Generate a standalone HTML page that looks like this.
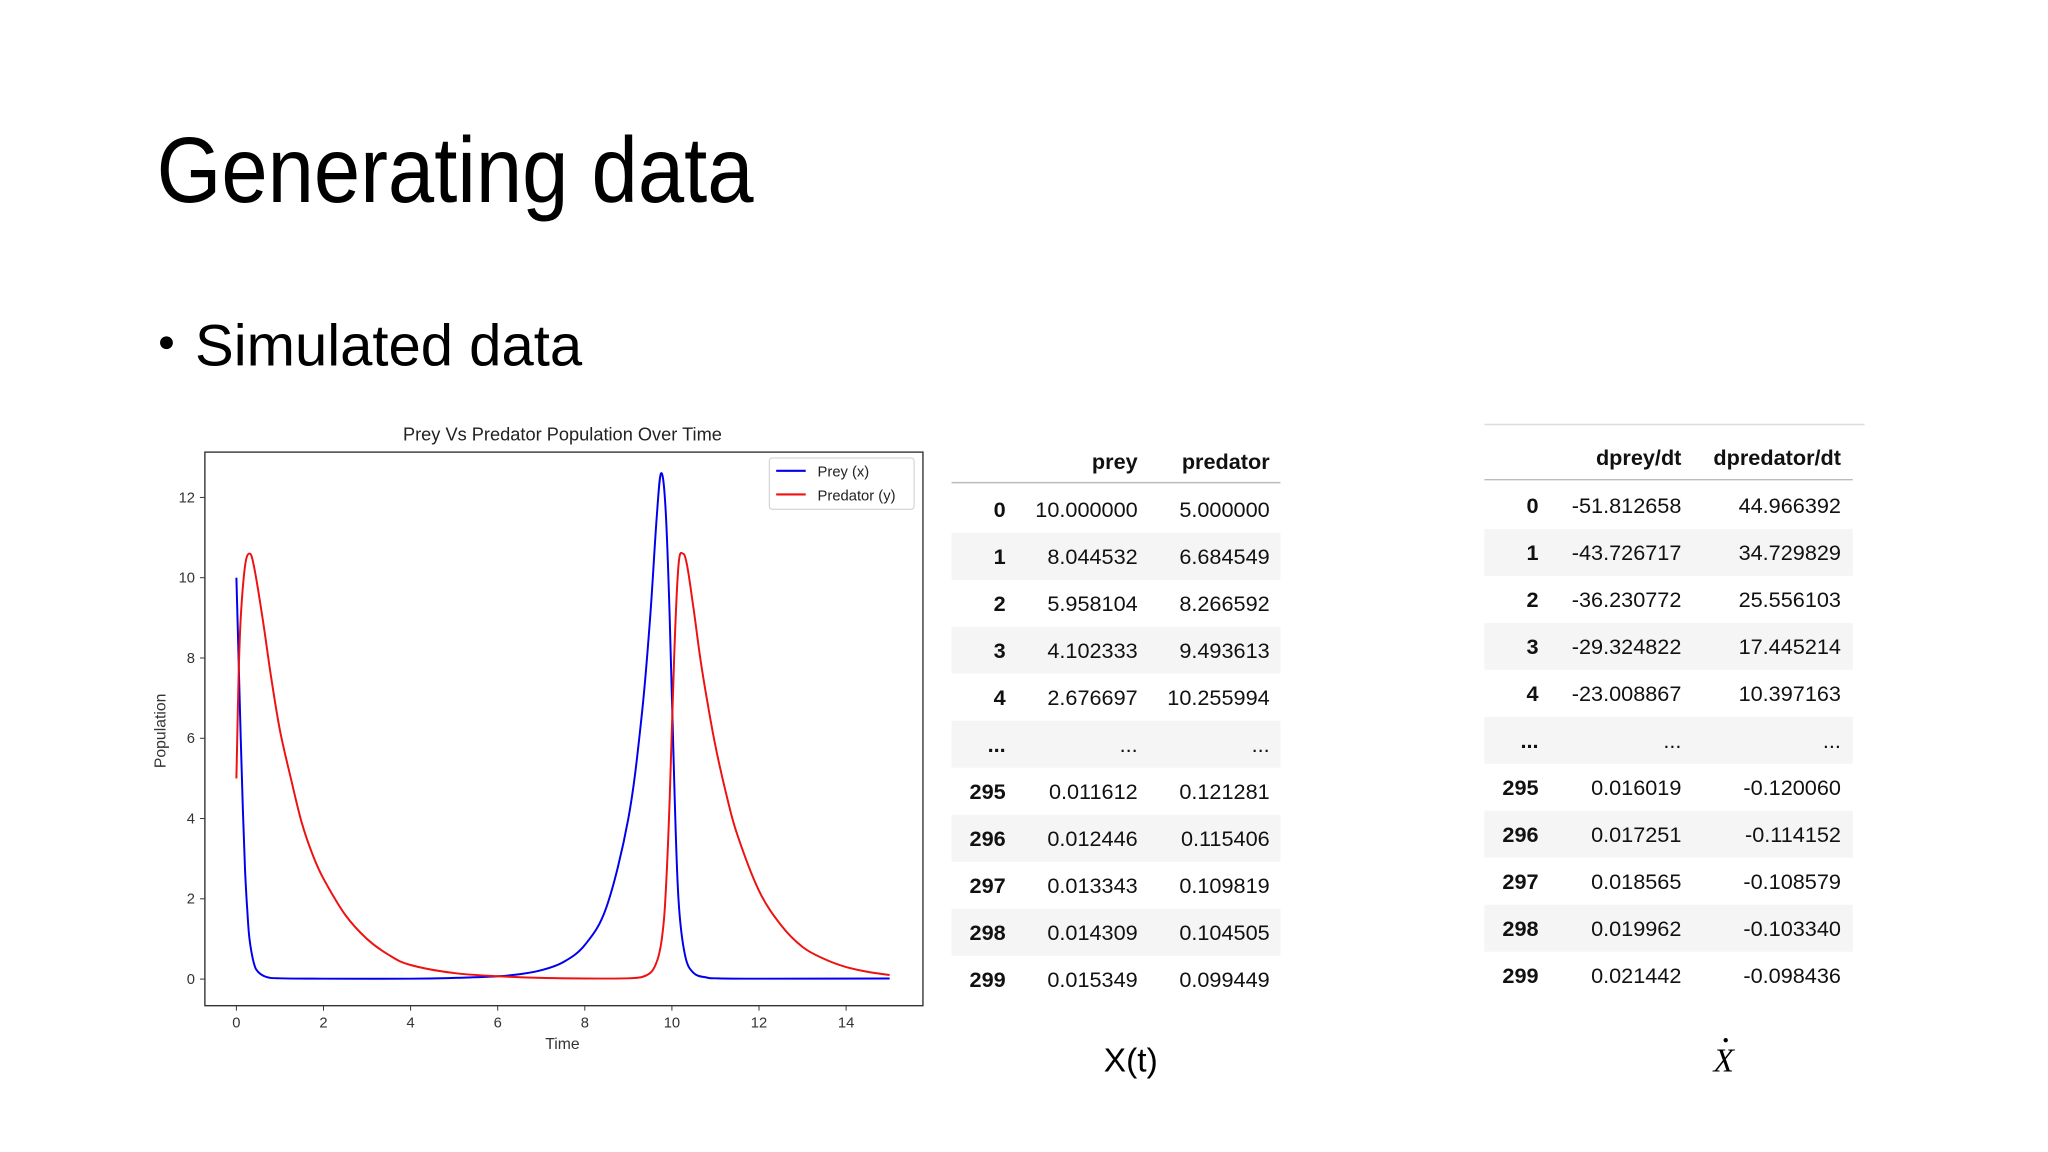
<!DOCTYPE html>
<html><head><meta charset="utf-8"><title>Generating data</title>
<style>
html,body{margin:0;padding:0;background:#fff;}
svg{display:block;font-family:"Liberation Sans",sans-serif;}
</style></head>
<body>
<svg id="slide" width="2048" height="1152" viewBox="0 0 2048 1152" xmlns="http://www.w3.org/2000/svg">
<rect width="2048" height="1152" fill="#fff"/>
<g transform="scale(0.985)">
<text x="159" y="205" font-size="94" textLength="606" lengthAdjust="spacingAndGlyphs" fill="#000">Generating data</text>
<circle cx="169" cy="348" r="6.5" fill="#000"/>
<text x="198" y="371" font-size="59" textLength="393" lengthAdjust="spacingAndGlyphs" fill="#000">Simulated data</text>

<g id="chart"></g>
<g id="tables"></g>

<text x="1148" y="1088" font-size="34" text-anchor="middle" fill="#000">X(t)</text>
<g>
<text x="1750" y="1088" font-size="34" font-style="italic" font-family="Liberation Serif, serif" text-anchor="middle" fill="#000">X</text>
<circle cx="1752" cy="1056" r="2.2" fill="#000"/>
</g>
</g>
</svg>
<script>
// ---- chart data ----
const preyT = [0,0.05,0.1,0.15,0.2,0.25,0.3,0.4,0.5,0.7,1,2,4,5,6,6.5,7,7.5,8,8.5,9,9.3,9.5,9.65,9.75,9.85,9.95,10.05,10.15,10.3,10.5,10.8,11,12,15];
const preyV = [10,8,6,4.2,2.7,1.7,1.0,0.4,0.18,0.05,0.02,0.01,0.01,0.03,0.07,0.12,0.22,0.42,0.85,1.8,4.0,6.5,9.0,11.5,12.6,11.8,9,5,2,0.6,0.15,0.04,0.02,0.01,0.015];
const predT = [0,0.05,0.1,0.2,0.3,0.4,0.6,0.8,1,1.25,1.5,1.75,2,2.5,3,3.5,4,5,6,7,8,9,9.3,9.5,9.6,9.7,9.78,9.85,9.95,10.05,10.15,10.25,10.35,10.5,10.65,10.8,11,11.25,11.5,12,12.5,13,13.5,14,14.5,15];
const predV = [5,7.5,9.0,10.3,10.6,10.3,9,7.5,6.2,5.0,3.9,3.1,2.5,1.6,1.0,0.6,0.35,0.15,0.07,0.03,0.015,0.02,0.05,0.15,0.3,0.6,1.1,2.0,4.5,8,10.3,10.6,10.3,9.2,8.0,7,5.8,4.6,3.6,2.2,1.35,0.8,0.5,0.3,0.18,0.1];
const xTicks = [0,2,4,6,8,10,12,14];
const yTicks = [0,2,4,6,8,10,12];

const NS = "http://www.w3.org/2000/svg";
const chart = document.getElementById('chart');
const X0=208, X1=937, Y0=459, Y1=1021;
const xs = t => 240 + t*(859-240)/14;
const ys = v => 994 - v*(994-505)/12;
function mk(tag, attrs, parent){const e=document.createElementNS(NS,tag);for(const k in attrs)e.setAttribute(k,attrs[k]);parent.appendChild(e);return e;}

const frame = mk('rect',{x:X0,y:Y0,width:X1-X0,height:Y1-Y0,fill:'none',stroke:'#333','stroke-width':1.4},chart);


const title = mk('text',{x:571,y:447,'font-size':18.5,'text-anchor':'middle',fill:'#222'},chart);
title.textContent='Prey Vs Predator Population Over Time';



xTicks.forEach(t=>{
  const l=mk('line',{x1:xs(t),x2:xs(t),y1:Y1,y2:Y1+5,stroke:'#333','stroke-width':1},chart);
  
  
  const tx=mk('text',{x:xs(t),y:Y1+22,'font-size':15,'text-anchor':'middle',fill:'#333'},chart);
  tx.textContent=t;
  
  
});
yTicks.forEach(v=>{
  const l=mk('line',{x1:X0-5,x2:X0,y1:ys(v),y2:ys(v),stroke:'#333','stroke-width':1},chart);
  
  
  const tx=mk('text',{x:X0-10,y:ys(v)+5,'font-size':15,'text-anchor':'end',fill:'#333'},chart);
  tx.textContent=v;
  
  
});
const xl=mk('text',{x:571,y:1065,'font-size':16,'text-anchor':'middle',fill:'#333'},chart);
xl.textContent='Time';


const yl=mk('text',{x:0,y:0,'font-size':16,'text-anchor':'middle',fill:'#333',transform:'translate(168,742) rotate(-90)'},chart);
yl.textContent='Population';



function line(T,V,color,name){
  const P=T.map((t,i)=>[xs(t),ys(V[i])]);
  let d='M'+P[0][0].toFixed(1)+','+P[0][1].toFixed(1);
  for(let i=0;i<P.length-1;i++){
    const p0=P[Math.max(0,i-1)],p1=P[i],p2=P[i+1],p3=P[Math.min(P.length-1,i+2)];
    const c1=[p1[0]+(p2[0]-p0[0])/6,p1[1]+(p2[1]-p0[1])/6];
    const c2=[p2[0]-(p3[0]-p1[0])/6,p2[1]-(p3[1]-p1[1])/6];
    c1[1]=Math.min(c1[1],994);c2[1]=Math.min(c2[1],994);
    d+=' C'+c1.map(v=>v.toFixed(1)).join(',')+' '+c2.map(v=>v.toFixed(1)).join(',')+' '+p2[0].toFixed(1)+','+p2[1].toFixed(1);
  }
  const p=mk('path',{d:d,fill:'none',stroke:color,'stroke-width':2,'stroke-linejoin':'round'},chart);
  
  
}
line(preyT,preyV,'#0000ee','prey-line');
line(predT,predV,'#ee1111','predator-line');

const lg=mk('g',{},chart);


mk('rect',{x:781,y:465,width:147,height:52,rx:3,fill:'#fff',stroke:'#ccc'},lg);
mk('line',{x1:788,x2:818,y1:478,y2:478,stroke:'#0000ee','stroke-width':2.2},lg);
mk('line',{x1:788,x2:818,y1:502,y2:502,stroke:'#ee1111','stroke-width':2.2},lg);
const le1=mk('text',{x:830,y:484,'font-size':15,fill:'#222'},lg);le1.textContent='Prey (x)';


const le2=mk('text',{x:830,y:508,'font-size':15,fill:'#222'},lg);le2.textContent='Predator (y)';



// ---- tables ----
const tables=document.getElementById('tables');
const idx=['0','1','2','3','4','...','295','296','297','298','299'];
const t1c1=['10.000000','8.044532','5.958104','4.102333','2.676697','...','0.011612','0.012446','0.013343','0.014309','0.015349'];
const t1c2=['5.000000','6.684549','8.266592','9.493613','10.255994','...','0.121281','0.115406','0.109819','0.104505','0.099449'];
const t2c1=['-51.812658','-43.726717','-36.230772','-29.324822','-23.008867','...','0.016019','0.017251','0.018565','0.019962','0.021442'];
const t2c2=['44.966392','34.729829','25.556103','17.445214','10.397163','...','-0.120060','-0.114152','-0.108579','-0.103340','-0.098436'];

function table(cfg){
  const g=mk('g',{},tables);
  
  
  if(cfg.topLine) mk('line',{x1:cfg.left,x2:cfg.right+12,y1:cfg.topLine,y2:cfg.topLine,stroke:'#ddd','stroke-width':1.5},g);
  mk('line',{x1:cfg.left,x2:cfg.right,y1:cfg.hline,y2:cfg.hline,stroke:'#bbb','stroke-width':1.5},g);
  cfg.headers.forEach((h,i)=>{
    const t=mk('text',{x:cfg.cols[i+1],y:cfg.hy,'font-size':22,'font-weight':'bold','text-anchor':'end',fill:'#111'},g);
    t.textContent=h;
    
    
  });
  idx.forEach((r,i)=>{
    const cy=cfg.r0+i*47.7;
    if(i%2===1) mk('rect',{x:cfg.left,y:cy-23.8,width:cfg.right-cfg.left,height:47.7,fill:'#f5f5f5'},g);
    const vals=[r,cfg.a[i],cfg.b[i]];
    vals.forEach((v,j)=>{
      const t=mk('text',{x:cfg.cols[j],y:cy+8,'font-size':22,'font-weight':j===0?'bold':'normal','text-anchor':'end',fill:'#111'},g);
      t.textContent=v;
      
      
    });
  });
}
table({name:'state-table',left:966,right:1300,hline:490,hy:476,r0:517,cols:[1021,1155,1289],headers:['prey','predator'],a:t1c1,b:t1c2});
table({name:'derivative-table',left:1507,right:1881,topLine:431,hline:487,hy:472,r0:513,cols:[1562,1707,1869],headers:['dprey/dt','dpredator/dt'],a:t2c1,b:t2c2});
</script>
</body></html>
